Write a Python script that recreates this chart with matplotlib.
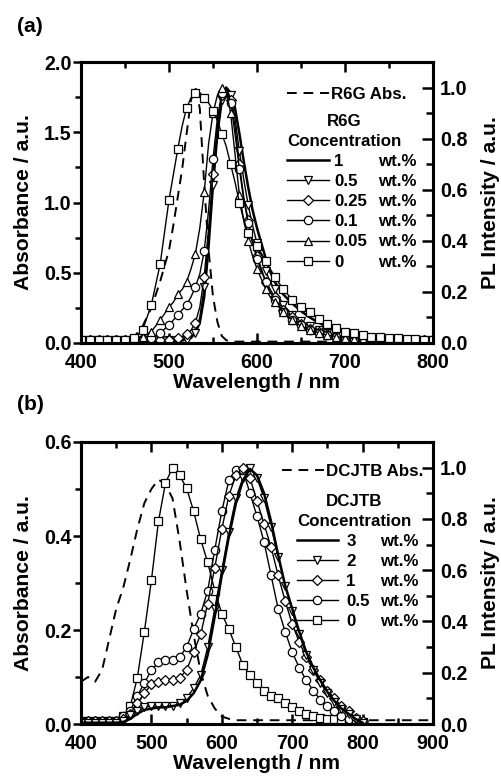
import numpy as np
import matplotlib
matplotlib.use('Agg')
import matplotlib.pyplot as plt
from matplotlib.ticker import MultipleLocator, FormatStrFormatter

plt.rcParams['font.family'] = ['Liberation Sans', 'DejaVu Sans']
plt.rcParams['font.weight'] = 'bold'
plt.rcParams['axes.labelweight'] = 'bold'

# ---------------- Panel (a): R6G ----------------
wl_a = np.array([400, 410, 420, 430, 440, 450, 460, 470, 480, 490, 500,
                 505, 510, 515, 520, 525, 530, 535, 540, 545, 550, 555, 560, 565, 570, 575,
                 580, 585, 590, 595, 600, 605, 610, 615, 620,
                 630, 640, 650, 660, 670, 680, 690, 700, 710, 720, 730, 740, 750, 760, 770, 780, 790, 800])

abs_a = [0.02, 0.02, 0.02, 0.02, 0.02, 0.03, 0.04, 0.12, 0.25, 0.44, 0.66,
         0.84, 1.04, 1.24, 1.49, 1.73, 1.82, 1.67, 1.13, 0.66, 0.33, 0.15, 0.05, 0.02, 0.01, 0.01,
         0.01, 0.01, 0.01, 0.01, 0.01, 0.01, 0.01, 0.01, 0.01,
         0.01, 0.01, 0.01, 0.01, 0.01, 0.01, 0.01, 0.01, 0.01, 0.01, 0.01, 0.01, 0.01, 0.01, 0.01, 0.01, 0.01, 0.01]

pl_a_1 = [0.005, 0.005, 0.005, 0.005, 0.005, 0.005, 0.005, 0.005, 0.005, 0.005, 0.006,
          0.007, 0.008, 0.01, 0.015, 0.02, 0.04, 0.08, 0.18, 0.38, 0.62, 0.82, 0.95, 1.0, 0.98, 0.92,
          0.82, 0.71, 0.61, 0.52, 0.45, 0.39, 0.33, 0.28, 0.24,
          0.19, 0.155, 0.125, 0.10, 0.08, 0.063, 0.05, 0.04, 0.032, 0.026, 0.021, 0.017, 0.014, 0.012, 0.01, 0.008, 0.007, 0.006]

pl_a_05 = [0.01, 0.01, 0.01, 0.01, 0.01, 0.01, 0.01, 0.01, 0.01, 0.01, 0.01,
           0.01, 0.01, 0.01, 0.01, 0.02, 0.04, 0.10, 0.22, 0.40, 0.62, 0.82, 0.95, 1.0, 0.97, 0.88,
           0.75, 0.64, 0.54, 0.46, 0.39, 0.33, 0.28, 0.24, 0.21,
           0.15, 0.11, 0.085, 0.065, 0.05, 0.04, 0.03, 0.025, 0.02, 0.018, 0.016, 0.014, 0.012, 0.011, 0.01, 0.01, 0.01, 0.01]

pl_a_025 = [0.01, 0.01, 0.01, 0.01, 0.01, 0.01, 0.01, 0.01, 0.01, 0.01, 0.012,
            0.015, 0.02, 0.025, 0.035, 0.05, 0.08, 0.14, 0.26, 0.45, 0.66, 0.85, 0.97, 1.0, 0.95, 0.85,
            0.70, 0.57, 0.48, 0.40, 0.34, 0.29, 0.24, 0.21, 0.18,
            0.13, 0.10, 0.075, 0.055, 0.045, 0.035, 0.025, 0.02, 0.017, 0.015, 0.013, 0.012, 0.011, 0.01, 0.01, 0.01, 0.01, 0.01]

pl_a_01 = [0.01, 0.01, 0.01, 0.01, 0.01, 0.01, 0.01, 0.015, 0.02, 0.04, 0.07,
           0.09, 0.11, 0.13, 0.15, 0.18, 0.22, 0.27, 0.36, 0.52, 0.72, 0.88, 0.98, 1.0, 0.94, 0.82,
           0.68, 0.56, 0.47, 0.39, 0.33, 0.28, 0.24, 0.20, 0.17,
           0.12, 0.09, 0.07, 0.05, 0.04, 0.03, 0.025, 0.02, 0.017, 0.015, 0.013, 0.012, 0.011, 0.01, 0.01, 0.01, 0.01, 0.01]

pl_a_005 = [0.01, 0.01, 0.01, 0.01, 0.01, 0.012, 0.015, 0.025, 0.045, 0.09, 0.14,
            0.16, 0.19, 0.21, 0.24, 0.29, 0.35, 0.45, 0.59, 0.78, 0.90, 0.97, 1.0, 0.99, 0.90, 0.74,
            0.58, 0.48, 0.40, 0.34, 0.29, 0.25, 0.21, 0.18, 0.16,
            0.12, 0.09, 0.065, 0.05, 0.04, 0.03, 0.025, 0.02, 0.017, 0.015, 0.013, 0.012, 0.011, 0.01, 0.01, 0.01, 0.01, 0.01]

pl_a_0 = [0.01, 0.01, 0.01, 0.01, 0.01, 0.012, 0.02, 0.05, 0.15, 0.31, 0.56,
          0.66, 0.76, 0.85, 0.92, 0.96, 0.98, 0.98, 0.96, 0.94, 0.91, 0.87, 0.82, 0.77, 0.70, 0.63,
          0.55, 0.48, 0.43, 0.40, 0.38, 0.35, 0.32, 0.29, 0.26,
          0.21, 0.17, 0.14, 0.12, 0.095, 0.075, 0.06, 0.045, 0.038, 0.03, 0.025, 0.022, 0.02, 0.018, 0.016, 0.014, 0.012, 0.01]

labels_a = ['1', '0.5', '0.25', '0.1', '0.05', '0']

# ---------------- Panel (b): DCJTB ----------------
wl_b = np.arange(400, 801, 10)
wl_b_abs = np.arange(400, 901, 10)

abs_b = [0.09, 0.10, 0.09, 0.115, 0.18, 0.245, 0.29, 0.35, 0.415, 0.47, 0.50, 0.52, 0.51, 0.48,
         0.39, 0.285, 0.19, 0.11, 0.06, 0.033, 0.016, 0.011] + [0.008] * 29

pl_b_3 = [0.005, 0.005, 0.005, 0.005, 0.005, 0.005, 0.008, 0.02, 0.04, 0.055, 0.06, 0.065, 0.065,
          0.07, 0.075, 0.09, 0.12, 0.17, 0.27, 0.42, 0.58, 0.73, 0.86, 0.95, 0.995, 0.97, 0.90,
          0.79, 0.66, 0.54, 0.45, 0.36, 0.28, 0.22, 0.17, 0.125, 0.09, 0.06, 0.04, 0.02, 0.005]

pl_b_2 = [0.005, 0.005, 0.005, 0.005, 0.005, 0.005, 0.01, 0.035, 0.05, 0.065, 0.07, 0.07, 0.07,
          0.072, 0.08, 0.10, 0.14, 0.19, 0.30, 0.45, 0.60, 0.75, 0.88, 0.96, 1.0, 0.96, 0.88,
          0.77, 0.65, 0.54, 0.44, 0.35, 0.27, 0.21, 0.16, 0.12, 0.085, 0.06, 0.04, 0.02, 0.005]

pl_b_1 = [0.01, 0.01, 0.01, 0.01, 0.01, 0.01, 0.02, 0.04, 0.08, 0.12, 0.155, 0.165, 0.17,
          0.17, 0.18, 0.21, 0.28, 0.35, 0.47, 0.61, 0.76, 0.89, 0.97, 1.0, 0.96, 0.87, 0.78,
          0.69, 0.58, 0.48, 0.39, 0.32, 0.26, 0.21, 0.17, 0.13, 0.10, 0.07, 0.05, 0.025, 0.01]

pl_b_05 = [0.01, 0.01, 0.01, 0.01, 0.01, 0.01, 0.03, 0.05, 0.11, 0.16, 0.21, 0.24, 0.25,
           0.25, 0.26, 0.30, 0.37, 0.43, 0.52, 0.68, 0.83, 0.95, 0.99, 0.99, 0.90, 0.81, 0.71,
           0.58, 0.45, 0.36, 0.28, 0.22, 0.17, 0.13, 0.095, 0.07, 0.05, 0.03, 0.02, 0.01, 0.005]

pl_b_0 = [0.01, 0.01, 0.01, 0.01, 0.01, 0.01, 0.03, 0.07, 0.18, 0.36, 0.56, 0.79, 0.94,
          1.0, 0.97, 0.92, 0.83, 0.72, 0.63, 0.52, 0.43, 0.37, 0.30, 0.23, 0.19, 0.16, 0.13,
          0.11, 0.10, 0.08, 0.065, 0.05, 0.04, 0.03, 0.025, 0.02, 0.018, 0.015, 0.01, 0.008, 0.006]

labels_b = ['3', '2', '1', '0.5', '0']

# ---------------- Figure ----------------
W, H = 502, 776
fig = plt.figure(figsize=(W / 100, H / 100), dpi=100)

def px_axes(l, t, r, b):
    return fig.add_axes([l / W, 1 - b / H, (r - l) / W, (b - t) / H])

TFS = 14.2   # tick labels
AFS = 15.2   # axis labels
LFS = 12.2   # legend
MS = 6
MEW = 0.9

def style(ax, ax2, xlim, ylim_l, ymaj_l, ymin_l):
    ax.set_xlim(*xlim)
    ax.set_ylim(*ylim_l)
    ax2.set_ylim(0, 1.1)
    for a in (ax, ax2):
        for sp in a.spines.values():
            sp.set_linewidth(2.2)
    ax.xaxis.set_major_locator(MultipleLocator(100))
    ax.xaxis.set_minor_locator(MultipleLocator(50))
    ax.yaxis.set_major_locator(MultipleLocator(ymaj_l))
    ax.yaxis.set_minor_locator(MultipleLocator(ymin_l))
    ax.yaxis.set_major_formatter(FormatStrFormatter('%.1f'))
    ax2.yaxis.set_major_locator(MultipleLocator(0.2))
    ax2.yaxis.set_minor_locator(MultipleLocator(0.1))
    ax2.yaxis.set_major_formatter(FormatStrFormatter('%.1f'))
    ax2.set_yticks([0, 0.2, 0.4, 0.6, 0.8, 1.0])
    ax.tick_params(axis='x', which='both', direction='in', top=True, bottom=True,
                   labelsize=TFS, pad=7, width=1.8)
    ax.tick_params(axis='x', which='major', length=7)
    ax.tick_params(axis='x', which='minor', length=4)
    ax.tick_params(axis='y', which='both', direction='out', left=True, right=False,
                   labelsize=TFS, pad=1, width=1.8)
    ax.tick_params(axis='y', which='major', length=6)
    ax.tick_params(axis='y', which='minor', length=4)
    ax2.tick_params(axis='y', which='both', direction='in', right=True, left=False,
                    labelsize=TFS, pad=5, width=1.8)
    ax2.tick_params(axis='y', which='major', length=8)
    ax2.tick_params(axis='y', which='minor', length=5)
    ax.set_xlabel('Wavelength / nm', fontsize=AFS, labelpad=1)
    ax.set_ylabel('Absorbance / a.u.', fontsize=AFS, labelpad=8)
    ax2.set_ylabel('PL Intensity / a.u.', fontsize=AFS, labelpad=10)

def mk(ax, x, y, marker, lw=1.0, every=None):
    kw = dict(color='black', lw=lw)
    if marker:
        kw.update(marker=marker, ms=MS, mfc='white', mec='black', mew=MEW)
        if every is not None:
            kw['markevery'] = every
    return ax.plot(x, y, **kw)[0]

# ----- Panel (a)
axa = px_axes(81, 62, 433, 343)
axa2 = axa.twinx()
every_a = list(np.where(wl_a % 10 == 0)[0])
h_abs_a = axa.plot(wl_a, abs_a, color='black', lw=1.4, ls=(0, (5, 3.5)))[0]
h_a = [None] * 6
h_a[0] = mk(axa2, wl_a, pl_a_1, None, lw=1.8)
h_a[1] = mk(axa2, wl_a, pl_a_05, 'v', every=every_a)
h_a[2] = mk(axa2, wl_a, pl_a_025, 'D', every=every_a)
h_a[3] = mk(axa2, wl_a, pl_a_01, 'o', every=every_a)
h_a[4] = mk(axa2, wl_a, pl_a_005, '^', every=every_a)
h_a[5] = mk(axa2, wl_a, pl_a_0, 's', every=every_a)
h_a[2].set_markersize(5.3)
style(axa, axa2, (400, 800), (0, 2.0), 0.5, 0.25)

# ----- Panel (b)
axb = px_axes(81, 442, 433, 724)
axb2 = axb.twinx()
h_abs_b = axb.plot(wl_b_abs, abs_b, color='black', lw=1.4, ls=(0, (5, 3.5)))[0]
hb0 = mk(axb2, wl_b, pl_b_0, 's')
hb05 = mk(axb2, wl_b, pl_b_05, 'o')
hb1 = mk(axb2, wl_b, pl_b_1, 'D')
hb1.set_markersize(5.3)
hb2 = mk(axb2, wl_b, pl_b_2, 'v')
hb3 = mk(axb2, wl_b, pl_b_3, None, lw=1.8)
h_b = [hb3, hb2, hb1, hb05, hb0]
style(axb, axb2, (400, 900), (0, 0.6), 0.2, 0.1)

# ----- Legends
def legends(ax2, abs_handle, abs_label, handles, labels, title,
            x1, y1, x2, y2, hl2, htp2):
    leg1 = ax2.legend([abs_handle], [abs_label], loc='upper left', bbox_to_anchor=(x1, y1),
                      frameon=False, fontsize=LFS, handlelength=2.5, handletextpad=0.12,
                      borderpad=0, borderaxespad=0)
    ax2.add_artist(leg1)
    leg2 = ax2.legend(handles, labels, loc='upper left', bbox_to_anchor=(x2, y2),
                      frameon=False, fontsize=LFS, title=title, title_fontsize=LFS,
                      handlelength=hl2, handletextpad=htp2, borderpad=0, borderaxespad=0,
                      labelspacing=0.3, alignment='left')
    leg2.get_title().set_multialignment('center')
    leg2.get_title().set_fontweight('bold')
    leg2.get_title().set_linespacing(1.42)
    return leg2

leg_a = legends(axa2, h_abs_a, 'R6G Abs.', h_a, labels_a, 'R6G\nConcentration',
                0.585, 0.912, 0.585, 0.815, 2.5, 0.3)
leg_b = legends(axb2, h_abs_b, 'DCJTB Abs.', h_b, labels_b, 'DCJTB\nConcentration',
                0.571, 0.922, 0.614, 0.816, 2.4, 0.5)

fig.text(17 / W, 1 - 27 / H, '(a)', fontsize=AFS, ha='left', va='center')
fig.text(17 / W, 1 - 404 / H, '(b)', fontsize=AFS, ha='left', va='center')

fig.canvas.draw()
r = fig.canvas.get_renderer()
for leg, ax, xpx in ((leg_a, axa, 378), (leg_b, axb, 380)):
    for t in leg.get_texts():
        bb = t.get_window_extent(r)
        fig.text(xpx / W, bb.y0 / fig.bbox.height, 'wt.%', fontsize=LFS, ha='left', va='bottom')

fig.savefig('out.png', dpi=100)
